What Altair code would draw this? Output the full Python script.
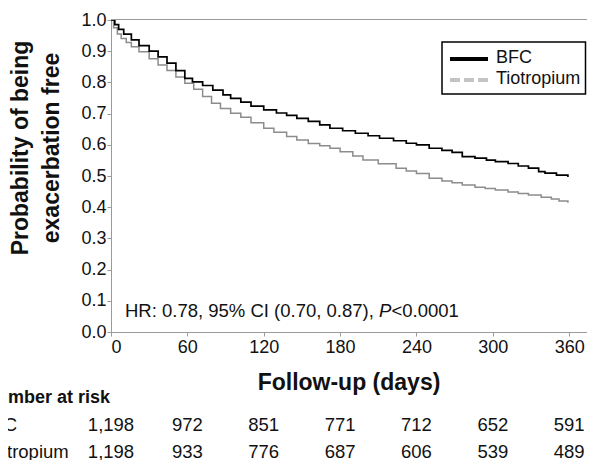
import altair as alt
import pandas as pd

# ---- data ----
bfc_day = [0, 3, 6, 10, 16, 22, 30, 37, 44, 51, 58, 64, 72, 80, 88, 94, 102, 110, 120,
           130, 138, 146, 155, 164, 172, 182, 192, 202, 211, 222, 232, 240, 250, 260,
           268, 276, 286, 295, 302, 312, 320, 328, 336, 341, 350, 359]
bfc_surv = [1.0, 0.985, 0.97, 0.955, 0.936, 0.918, 0.9, 0.882, 0.862, 0.838, 0.813, 0.802,
            0.79, 0.775, 0.76, 0.749, 0.737, 0.724, 0.712, 0.702, 0.694, 0.685, 0.675,
            0.664, 0.653, 0.645, 0.637, 0.629, 0.621, 0.613, 0.605, 0.6, 0.589, 0.582,
            0.576, 0.562, 0.557, 0.551, 0.546, 0.54, 0.532, 0.525, 0.514, 0.509, 0.503, 0.497]

tio_day = [0, 2, 5, 8, 12, 16, 22, 30, 37, 44, 51, 58, 65, 72, 79, 86, 94, 102, 110, 120,
           128, 138, 146, 155, 164, 172, 180, 190, 198, 210, 224, 232, 240, 250, 260, 268,
           276, 286, 294, 302, 312, 320, 328, 338, 346, 352, 359]
tio_surv = [1.0, 0.975, 0.955, 0.941, 0.928, 0.914, 0.898, 0.876, 0.856, 0.838, 0.817,
            0.797, 0.778, 0.755, 0.733, 0.716, 0.701, 0.688, 0.671, 0.653, 0.64, 0.627,
            0.615, 0.604, 0.597, 0.589, 0.578, 0.564, 0.551, 0.539, 0.525, 0.516, 0.508,
            0.493, 0.484, 0.478, 0.471, 0.464, 0.46, 0.455, 0.449, 0.444, 0.439, 0.432,
            0.426, 0.42, 0.414]

groups = ["BFC", "Tiotropium"]
risk_day = [0, 60, 120, 180, 240, 300, 360]
bfc_risk = [1198, 972, 851, 771, 712, 652, 591]
tio_risk = [1198, 933, 776, 687, 606, 539, 489]
x_ticks = [0, 60, 120, 180, 240, 300, 360]
y_ticks = [0.0, 0.1, 0.2, 0.3, 0.4, 0.5, 0.6, 0.7, 0.8, 0.9, 1.0]
y_title = ["Probability of being", "exacerbation free"]
x_title = "Follow-up (days)"
risk_title = "Number at risk"
hr_text = ["HR: 0.78, 95% CI (0.70, 0.87), ", "P", "<0.0001"]

FONT = "Liberation Sans"
W, H = 476, 312
AX = "#9a9a9a"

xscale = alt.Scale(domain=[0, 374], nice=False, zero=False)
yscale = alt.Scale(domain=[0, 1], nice=False)
x_enc = alt.X("day:Q", scale=xscale,
              axis=alt.Axis(values=x_ticks, title=None, format="d", labelPadding=2))
y_enc = alt.Y("surv:Q", scale=yscale,
              axis=alt.Axis(values=y_ticks, title=None, format=".1f", labelPadding=1))

bfc_df = pd.DataFrame({"day": bfc_day, "surv": bfc_surv})
tio_df = pd.DataFrame({"day": tio_day, "surv": tio_surv})

tio_line = alt.Chart(tio_df).mark_line(interpolate="step-after", color="#8c8c8c",
                                       strokeWidth=1.5).encode(x=x_enc, y=y_enc)
bfc_line = alt.Chart(bfc_df).mark_line(interpolate="step-after", color="#000000",
                                       strokeWidth=1.7).encode(x=x_enc, y=y_enc)

one = pd.DataFrame({"a": [0]})

top_rule = alt.Chart(one).mark_rule(color=AX, strokeWidth=1).encode(
    x=alt.value(0), x2=alt.value(W), y=alt.value(-0.5))

# legend (drawn by hand to match the reference box)
leg_box = alt.Chart(one).mark_rect(filled=False, stroke="black", strokeWidth=1.5).encode(
    x=alt.value(331), x2=alt.value(474.5), y=alt.value(22), y2=alt.value(74))
leg_l1 = alt.Chart(one).mark_rule(color="black", strokeWidth=4).encode(
    x=alt.value(339), x2=alt.value(377), y=alt.value(39))
leg_l2 = alt.Chart(one).mark_rule(color="#c4c4c4", strokeWidth=4, strokeDash=[10, 4]).encode(
    x=alt.value(339), x2=alt.value(377), y=alt.value(60))
leg_t1 = alt.Chart(one).mark_text(text=groups[0], font=FONT, fontSize=18, align="left",
                                  baseline="middle", color="#111").encode(
    x=alt.value(385), y=alt.value(38))
leg_t2 = alt.Chart(one).mark_text(text=groups[1], font=FONT, fontSize=18, align="left",
                                  baseline="middle", color="#111").encode(
    x=alt.value(385), y=alt.value(59))

# titles
ytitle = alt.Chart(one).mark_text(text=y_title, font=FONT, fontSize=23, fontWeight="bold",
                                  angle=270, align="center", baseline="alphabetic",
                                  lineHeight=31, color="#111").encode(
    x=alt.value(-83), y=alt.value(128))
xtitle = alt.Chart(one).mark_text(text=x_title, font=FONT, fontSize=23, fontWeight="bold",
                                  align="center", baseline="alphabetic", color="#111").encode(
    x=alt.value(238), y=alt.value(370))

# HR annotation
hr1 = alt.Chart(one).mark_text(text=hr_text[0], font=FONT, fontSize=18.5, align="left",
                               baseline="alphabetic", color="#111").encode(
    x=alt.value(14), y=alt.value(297))
hr2 = alt.Chart(one).mark_text(text=hr_text[1], font=FONT, fontSize=18.5, fontStyle="italic",
                               align="left", baseline="alphabetic", color="#111").encode(
    x=alt.value(268), y=alt.value(297))
hr3 = alt.Chart(one).mark_text(text=hr_text[2], font=FONT, fontSize=18.5, align="left",
                               baseline="alphabetic", color="#111").encode(
    x=alt.value(280.5), y=alt.value(297))

# number at risk table
risk_hdr = alt.Chart(one).mark_text(text=risk_title, font=FONT, fontSize=18, fontWeight="bold",
                                    align="left", baseline="alphabetic", color="#111").encode(
    x=alt.value(-127), y=alt.value(383))
row1_lbl = alt.Chart(one).mark_text(text=groups[0], font=FONT, fontSize=18.5, align="left",
                                    baseline="alphabetic", color="#111").encode(
    x=alt.value(-131), y=alt.value(411))
row2_lbl = alt.Chart(one).mark_text(text=groups[1], font=FONT, fontSize=18.5, align="left",
                                    baseline="alphabetic", color="#111").encode(
    x=alt.value(-129), y=alt.value(438))

r1 = alt.Chart(pd.DataFrame({"day": risk_day, "n": bfc_risk})).mark_text(
    font=FONT, fontSize=18.5, align="center", baseline="alphabetic", color="#111").encode(
    x=x_enc, y=alt.value(411), text=alt.Text("n:Q", format=","))
r2 = alt.Chart(pd.DataFrame({"day": risk_day, "n": tio_risk})).mark_text(
    font=FONT, fontSize=18.5, align="center", baseline="alphabetic", color="#111").encode(
    x=x_enc, y=alt.value(438), text=alt.Text("n:Q", format=","))

chart = alt.layer(
    tio_line, bfc_line, top_rule, leg_box, leg_l1, leg_l2, leg_t1, leg_t2,
    ytitle, xtitle, hr1, hr2, hr3, risk_hdr, row1_lbl, row2_lbl, r1, r2
).properties(
    width=W, height=H,
    autosize=alt.AutoSizeParams(type="none"),
    padding={"left": 103, "top": 12, "right": 0, "bottom": 128},
    background="white",
).configure_view(stroke=None).configure_axis(
    labelFont=FONT, labelFontSize=18, labelColor="#111", domainColor=AX, tickColor=AX,
    tickSize=4, grid=False, domainWidth=1, tickWidth=1
)

chart.save("out.html", embed_options={"renderer": "svg", "actions": False})
